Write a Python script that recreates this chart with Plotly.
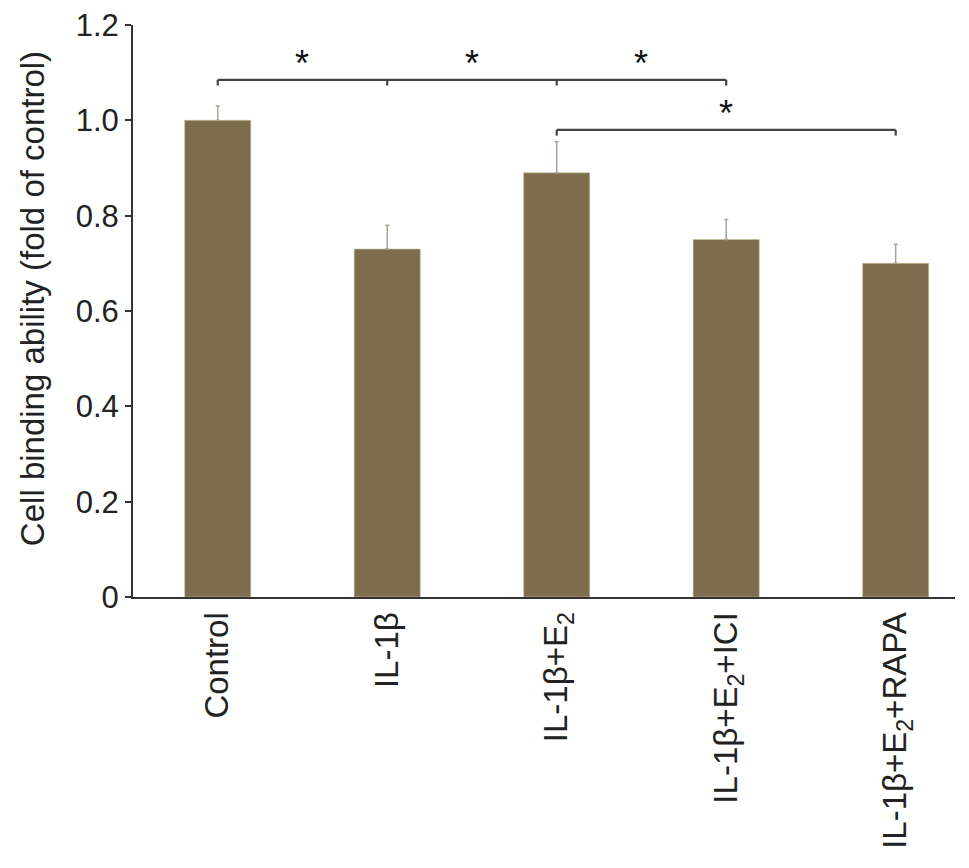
import plotly.graph_objects as go

categories = [
    "Control",
    "IL-1β",
    "IL-1β+E<sub>2</sub>",
    "IL-1β+E<sub>2</sub>+ICI",
    "IL-1β+E<sub>2</sub>+RAPA",
]
values = [1.00, 0.73, 0.89, 0.75, 0.70]
errors = [0.03, 0.05, 0.065, 0.042, 0.04]

y_tickvals = [0, 0.2, 0.4, 0.6, 0.8, 1.0, 1.2]
y_ticktext = ["0", "0.2", "0.4", "0.6", "0.8", "1.0", "1.2"]

# significance brackets: (start index, end index, height, inner ticks)
brackets = [
    (0, 3, 1.085, [1, 2]),
    (2, 4, 0.98, []),
]
# star positions: (x index, y)
stars = [(0.5, 1.12), (1.5, 1.12), (2.5, 1.12), (3.0, 1.015)]

BAR_COLOR = "#7d6c4e"
AXIS_COLOR = "#333333"
FONT = "Liberation Sans, Arial, sans-serif"

fig = go.Figure()

fig.add_trace(
    go.Bar(
        x=categories,
        y=values,
        width=0.39,
        marker=dict(color=BAR_COLOR, line=dict(color="#c9c29a", width=0.6)),
        error_y=dict(
            type="data",
            symmetric=False,
            array=errors,
            arrayminus=[0] * len(errors),
            color="#aaa396",
            thickness=1.5,
            width=2,
        ),
        showlegend=False,
    )
)

shapes = []
tick_len = 0.012
for x0, x1, h, inner in brackets:
    shapes.append(dict(type="line", x0=x0, x1=x1, y0=h, y1=h,
                       line=dict(color="#444444", width=2.2)))
    for xi in [x0, x1] + inner:
        shapes.append(dict(type="line", x0=xi, x1=xi, y0=h, y1=h - tick_len,
                           line=dict(color="#444444", width=2.2)))

annotations = [
    dict(x=sx, y=sy, text="*", showarrow=False, xref="x", yref="y",
         font=dict(size=36, color="#111111", family=FONT))
    for sx, sy in stars
]

# y-axis title placed by hand
annotations.append(
    dict(
        text="Cell binding ability (fold of control)",
        xref="paper",
        yref="paper",
        x=-0.122,
        y=0.522,
        xanchor="center",
        yanchor="middle",
        textangle=-90,
        showarrow=False,
        font=dict(size=33, color="#222222", family=FONT),
    )
)

fig.update_layout(
    template="plotly_white",
    width=953,
    height=852,
    plot_bgcolor="white",
    paper_bgcolor="white",
    margin=dict(l=125, r=6, t=17, b=263),
    font=dict(family=FONT, size=30, color="#222222"),
    shapes=shapes,
    annotations=annotations,
)

fig.update_xaxes(
    range=[-0.5, 4.35],
    automargin=False,
    ticklabeloverflow="allow",
    showgrid=False,
    showline=True,
    linecolor=AXIS_COLOR,
    linewidth=2,
    ticks="",
    tickangle=-90,
    tickfont=dict(size=33),
)

fig.update_yaxes(
    range=[0, 1.2],
    automargin=False,
    ticklabeloverflow="allow",
    tickvals=y_tickvals,
    ticktext=y_ticktext,
    showgrid=False,
    zeroline=False,
    showline=True,
    linecolor=AXIS_COLOR,
    linewidth=2,
    ticks="outside",
    ticklen=6,
    tickwidth=1.5,
    tickcolor=AXIS_COLOR,
    tickfont=dict(size=31),
)

fig.write_html("out.html")
